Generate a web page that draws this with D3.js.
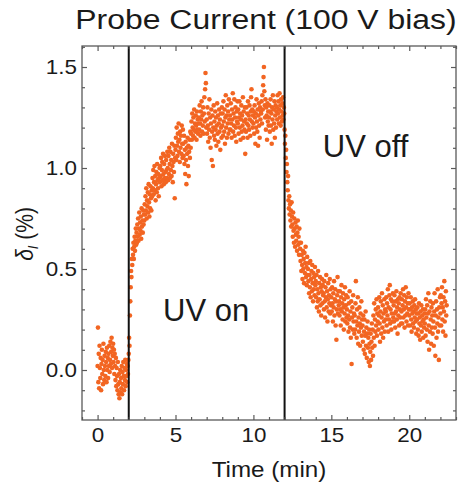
<!DOCTYPE html>
<html>
<head>
<meta charset="utf-8">
<script src="https://cdn.jsdelivr.net/npm/d3@7"></script>
<style>
  html, body { margin: 0; padding: 0; background: #fff; }
  svg { display: block; }
  text { font-family: "Liberation Sans", Arial, sans-serif; fill: #1a1a1a; }
</style>
</head>
<body>
<svg id="chart" width="464" height="485"></svg>
<script>
// time axis sampling of the probe current trace (minutes)
const sampleStart = 0;
const sampleStep = 0.025;

// relative probe current delta_I (%), one row per half minute
const probeCurrent = [
  0.02, 0.21, -0.06, 0.08, -0.09, 0.12, 0.01, -0.04, 0.06, -0.10, 0.03, 0.10, -0.02, 0.05, -0.07, 0.13, 0.00, -0.05, 0.07, 0.02,
  -0.03, 0.09, 0.04, -0.06, 0.11, 0.00, 0.06, -0.04, 0.08, 0.02, 0.12, -0.01, 0.05, 0.14, 0.03, 0.09, 0.16, 0.01, 0.11, 0.07,
  0.13, 0.04, 0.10, -0.02, 0.08, 0.02, -0.05, 0.06, -0.08, 0.01, -0.03, -0.10, 0.04, -0.07, -0.12, -0.02, -0.14, -0.06, 0.00, -0.11,
  -0.04, -0.09, 0.02, -0.12, -0.01, -0.07, 0.04, -0.03, -0.10, 0.01, -0.05, 0.05, -0.08, 0.00, -0.03, 0.03, -0.06, 0.02, -0.02, 0.05,
  0.08, 0.16, 0.12, 0.27, 0.34, 0.41, 0.49, 0.46, 0.55, 0.52, 0.60, 0.57, 0.63, 0.55, 0.61, 0.66, 0.59, 0.64, 0.70, 0.62,
  0.68, 0.63, 0.72, 0.66, 0.75, 0.64, 0.70, 0.78, 0.67, 0.73, 0.69, 0.76, 0.65, 0.80, 0.71, 0.74, 0.68, 0.79, 0.72, 0.77,
  0.74, 0.82, 0.77, 0.86, 0.79, 0.90, 0.75, 0.84, 0.81, 0.88, 0.78, 0.92, 0.83, 0.76, 0.87, 0.80, 0.91, 0.85, 0.79, 0.89,
  0.86, 0.95, 0.90, 0.99, 0.87, 0.93, 1.01, 0.89, 0.96, 0.84, 0.92, 0.98, 0.88, 1.02, 0.94, 0.90, 0.97, 0.86, 0.95, 1.00,
  0.93, 1.01, 0.96, 1.05, 0.91, 0.99, 1.03, 0.94, 1.07, 0.97, 0.92, 1.02, 0.95, 1.06, 0.98, 0.93, 1.04, 0.99, 0.95, 1.08,
  1.00, 0.94, 1.06, 0.97, 1.10, 1.02, 0.95, 1.08, 0.99, 1.04, 0.96, 1.12, 1.01, 0.93, 1.07, 1.03, 0.98, 1.11, 0.85, 1.05,
  1.09, 1.15, 1.04, 1.20, 1.11, 1.06, 1.17, 1.13, 1.22, 1.08, 1.14, 1.03, 1.18, 1.10, 1.16, 1.07, 1.21, 1.12, 1.05, 1.19,
  1.12, 1.06, 1.16, 1.02, 1.09, 0.97, 1.13, 1.04, 0.92, 1.10, 1.07, 1.15, 1.01, 1.11, 0.96, 1.08, 1.14, 1.05, 1.18, 1.10,
  1.17, 1.23, 1.14, 1.27, 1.20, 1.16, 1.25, 1.19, 1.29, 1.15, 1.22, 1.18, 1.26, 1.21, 1.14, 1.28, 1.19, 1.24, 1.17, 1.22,
  1.25, 1.19, 1.31, 1.22, 1.16, 1.28, 1.24, 1.33, 1.18, 1.26, 1.21, 1.30, 1.17, 1.27, 1.35, 1.23, 1.39, 1.47, 1.42, 1.20,
  1.24, 1.17, 1.30, 1.21, 1.13, 1.27, 1.19, 1.34, 1.15, 1.25, 1.10, 1.22, 1.29, 1.04, 1.18, 1.26, 1.01, 1.20, 1.31, 1.16,
  1.23, 1.14, 1.28, 1.19, 1.25, 1.11, 1.21, 1.32, 1.17, 1.26, 1.13, 1.22, 1.29, 1.18, 1.24, 1.09, 1.27, 1.20, 1.15, 1.30,
  1.21, 1.27, 1.16, 1.33, 1.23, 1.18, 1.29, 1.12, 1.25, 1.36, 1.20, 1.26, 1.15, 1.31, 1.22, 1.28, 1.17, 1.34, 1.24, 1.19,
  1.26, 1.19, 1.32, 1.22, 1.15, 1.29, 1.24, 1.37, 1.18, 1.27, 1.21, 1.34, 1.16, 1.25, 1.30, 1.20, 1.13, 1.28, 1.23, 1.33,
  1.22, 1.29, 1.17, 1.25, 1.33, 1.20, 1.27, 1.14, 1.24, 1.31, 1.18, 1.26, 1.21, 1.35, 1.15, 1.28, 1.23, 1.19, 1.30, 1.07,
  1.24, 1.18, 1.30, 1.22, 1.27, 1.15, 1.33, 1.21, 1.26, 1.19, 1.31, 1.24, 1.16, 1.28, 1.35, 1.39, 1.23, 1.29, 1.20, 1.26,
  1.22, 1.28, 1.17, 1.31, 1.25, 1.12, 1.27, 1.20, 1.34, 1.23, 1.18, 1.29, 1.11, 1.26, 1.32, 1.21, 1.15, 1.30, 1.24, 1.28,
  1.27, 1.33, 1.22, 1.36, 1.29, 1.41, 1.45, 1.50, 1.38, 1.31, 1.25, 1.34, 1.19, 1.30, 1.26, 1.14, 1.32, 1.23, 1.28, 1.21,
  1.25, 1.31, 1.18, 1.28, 1.34, 1.21, 1.27, 1.12, 1.30, 1.24, 1.36, 1.19, 1.29, 1.22, 1.33, 1.15, 1.26, 1.31, 1.20, 1.28,
  1.30, 1.24, 1.36, 1.27, 1.33, 1.22, 1.29, 1.37, 1.25, 1.31, 1.21, 1.34, 1.28, 1.23, 1.32, 1.26, 1.35, 1.24, 1.30, 1.27,
  1.19, 1.12, 1.16, 1.05, 1.09, 0.98, 1.02, 0.93, 0.89, 0.96, 0.84, 0.80, 0.86, 0.77, 0.82, 0.74, 0.79, 0.71, 0.83, 0.76,
  0.72, 0.66, 0.78, 0.69, 0.63, 0.75, 0.70, 0.61, 0.73, 0.67, 0.64, 0.71, 0.59, 0.68, 0.74, 0.62, 0.66, 0.57, 0.70, 0.63,
  0.60, 0.54, 0.63, 0.49, 0.57, 0.52, 0.45, 0.59, 0.50, 0.55, 0.43, 0.58, 0.48, 0.53, 0.61, 0.46, 0.51, 0.42, 0.56, 0.47,
  0.50, 0.44, 0.53, 0.38, 0.47, 0.41, 0.54, 0.36, 0.45, 0.49, 0.39, 0.52, 0.43, 0.34, 0.48, 0.40, 0.46, 0.37, 0.51, 0.42,
  0.44, 0.36, 0.47, 0.31, 0.40, 0.34, 0.49, 0.38, 0.29, 0.43, 0.35, 0.46, 0.32, 0.41, 0.27, 0.39, 0.45, 0.33, 0.42, 0.37,
  0.38, 0.30, 0.44, 0.34, 0.26, 0.41, 0.36, 0.47, 0.31, 0.39, 0.24, 0.35, 0.43, 0.29, 0.37, 0.33, 0.45, 0.28, 0.40, 0.32,
  0.36, 0.29, 0.41, 0.33, 0.24, 0.38, 0.31, 0.44, 0.27, 0.35, 0.40, 0.22, 0.34, 0.15, 0.30, 0.37, 0.46, 0.28, 0.39, 0.32,
  0.34, 0.27, 0.39, 0.30, 0.22, 0.36, 0.42, 0.29, 0.33, 0.25, 0.38, 0.31, 0.20, 0.35, 0.28, 0.41, 0.24, 0.32, 0.37, 0.26,
  0.30, 0.23, 0.36, 0.27, 0.19, 0.33, 0.25, 0.39, 0.21, 0.29, 0.16, 0.34, 0.03, 0.26, 0.31, 0.20, 0.37, 0.24, 0.28, 0.18,
  0.27, 0.20, 0.33, 0.44, 0.24, 0.16, 0.30, 0.22, 0.36, 0.13, 0.26, 0.19, 0.31, 0.23, 0.12, 0.28, 0.21, 0.34, 0.17, 0.25,
  0.22, 0.14, 0.27, 0.10, 0.19, 0.25, 0.08, 0.17, 0.29, 0.12, 0.21, 0.06, 0.18, 0.24, 0.11, 0.16, 0.04, 0.20, 0.13, 0.02,
  0.09, 0.18, 0.05, 0.14, 0.23, 0.11, 0.20, 0.07, 0.27, 0.16, 0.33, 0.12, 0.25, 0.19, 0.30, 0.22, 0.35, 0.17, 0.28, 0.24,
  0.31, 0.20, 0.27, 0.36, 0.23, 0.14, 0.29, 0.34, 0.18, 0.26, 0.38, 0.21, 0.32, 0.16, 0.28, 0.24, 0.35, 0.19, 0.30, 0.25,
  0.29, 0.36, 0.22, 0.33, 0.27, 0.40, 0.19, 0.31, 0.25, 0.37, 0.42, 0.23, 0.30, 0.35, 0.20, 0.28, 0.34, 0.24, 0.38, 0.26,
  0.32, 0.24, 0.37, 0.28, 0.21, 0.34, 0.29, 0.39, 0.25, 0.31, 0.18, 0.35, 0.27, 0.33, 0.22, 0.36, 0.30, 0.26, 0.38, 0.23,
  0.29, 0.35, 0.23, 0.32, 0.40, 0.26, 0.30, 0.37, 0.21, 0.34, 0.27, 0.41, 0.31, 0.24, 0.36, 0.28, 0.33, 0.22, 0.38, 0.30,
  0.27, 0.33, 0.22, 0.30, 0.36, 0.25, 0.19, 0.31, 0.28, 0.34, 0.23, 0.29, 0.21, 0.32, 0.26, 0.35, 0.24, 0.30, 0.18, 0.28,
  0.25, 0.31, 0.20, 0.28, 0.17, 0.33, 0.23, 0.26, 0.15, 0.29, 0.22, 0.32, 0.19, 0.27, 0.24, 0.30, 0.16, 0.25, 0.21, 0.28,
  0.23, 0.30, 0.17, 0.35, 0.26, 0.20, 0.32, 0.14, 0.28, 0.38, 0.22, 0.10, 0.29, 0.19, 0.34, 0.25, 0.13, 0.31, 0.21, 0.27,
  0.18, 0.33, 0.24, 0.12, 0.29, 0.38, 0.21, 0.07, 0.27, 0.34, 0.16, 0.30, 0.23, 0.40, 0.19, 0.26, 0.05, 0.31, 0.22, 0.36,
  0.28, 0.37, 0.22, 0.33, 0.41, 0.25, 0.31, 0.19, 0.36, 0.29, 0.44, 0.24, 0.34, 0.17, 0.39, 0.27, 0.32
];

// UV switching times (min)
const uvSwitchTimes = [2, 12];
const annotations = [
  { label: "UV on", t: 4.2, v: 0.245 },
  { label: "UV off", t: 14.45, v: 1.055 }
];

const xMajorTicks = [0, 5, 10, 15, 20];
const yMajorTicks = [0.0, 0.5, 1.0, 1.5];

const titleText = "Probe Current (100 V bias)";
const xLabelText = "Time (min)";

const points = probeCurrent.map((v, i) => ({ t: sampleStart + i * sampleStep, v: v }));

const svg = d3.select("#chart");
const margin = { left: 82, right: 8, top: 46, bottom: 65 };
const width = 464, height = 485;

const x = d3.scaleLinear().domain([-1, 23]).range([margin.left, width - margin.right]);
const y = d3.scaleLinear().domain([-0.2475, 1.604]).range([height - margin.bottom, margin.top]);

const frameColor = "#5a5a5a";
const tickFont = "'Liberation Sans', Arial, sans-serif";

// points
svg.append("g")
  .selectAll("circle")
  .data(points)
  .enter().append("circle")
  .attr("cx", d => x(d.t))
  .attr("cy", d => y(d.v))
  .attr("r", 2.3)
  .attr("fill", "#f26522");

// UV switch lines
svg.append("g")
  .selectAll("line")
  .data(uvSwitchTimes)
  .enter().append("line")
  .attr("x1", d => x(d)).attr("x2", d => x(d))
  .attr("y1", y.range()[0]).attr("y2", y.range()[1])
  .attr("stroke", "#111")
  .attr("stroke-width", 2);

// ticks, pointing inward on all four sides
const xMinor = d3.range(-1, 24, 1).filter(d => !xMajorTicks.includes(d));
const yMinor = d3.range(-2, 17, 1).map(d => d / 10).filter(d => !yMajorTicks.some(m => Math.abs(m - d) < 1e-9));

function styleAxis(g) {
  g.select(".domain").remove();
  g.selectAll(".tick line").attr("stroke", frameColor).attr("stroke-width", 1.2);
}

const plotBottom = y.range()[0], plotTop = y.range()[1];
const plotLeft = x.range()[0], plotRight = x.range()[1];

svg.append("g").attr("transform", `translate(0,${plotBottom})`)
  .call(d3.axisBottom(x).tickValues(xMinor).tickSize(-3).tickFormat(""))
  .call(styleAxis);
svg.append("g").attr("transform", `translate(0,${plotTop})`)
  .call(d3.axisTop(x).tickValues(xMinor).tickSize(-3).tickFormat(""))
  .call(styleAxis);
svg.append("g").attr("transform", `translate(0,${plotTop})`)
  .call(d3.axisTop(x).tickValues(xMajorTicks).tickSize(-5).tickFormat(""))
  .call(styleAxis);
svg.append("g").attr("transform", `translate(${plotLeft},0)`)
  .call(d3.axisLeft(y).tickValues(yMinor).tickSize(-3).tickFormat(""))
  .call(styleAxis);
svg.append("g").attr("transform", `translate(${plotRight},0)`)
  .call(d3.axisRight(y).tickValues(yMinor).tickSize(-3).tickFormat(""))
  .call(styleAxis);
svg.append("g").attr("transform", `translate(${plotRight},0)`)
  .call(d3.axisRight(y).tickValues(yMajorTicks).tickSize(-5).tickFormat(""))
  .call(styleAxis);

const xAxis = svg.append("g").attr("transform", `translate(0,${plotBottom})`)
  .call(d3.axisBottom(x).tickValues(xMajorTicks).tickSize(-5).tickPadding(8).tickFormat(d3.format("d")))
  .call(styleAxis);
xAxis.selectAll(".tick text")
  .attr("font-size", 20)
  .attr("font-family", tickFont)
  .attr("fill", "#1a1a1a")
  .attr("transform", "scale(1.12,1)");

const yAxis = svg.append("g").attr("transform", `translate(${plotLeft},0)`)
  .call(d3.axisLeft(y).tickValues(yMajorTicks).tickSize(-5).tickPadding(4.5).tickFormat(d3.format(".1f")))
  .call(styleAxis);
yAxis.selectAll(".tick text")
  .attr("font-size", 20)
  .attr("font-family", tickFont)
  .attr("fill", "#1a1a1a")
  .attr("transform", "scale(1.12,1)");

// frame
svg.append("rect")
  .attr("x", plotLeft).attr("y", plotTop)
  .attr("width", plotRight - plotLeft).attr("height", plotBottom - plotTop)
  .attr("fill", "none")
  .attr("stroke", frameColor)
  .attr("stroke-width", 1.3);

// title
svg.append("text")
  .attr("transform", `translate(266,29) scale(1.14,1)`)
  .attr("text-anchor", "middle")
  .attr("font-size", 28)
  .text(titleText);

// x label
svg.append("text")
  .attr("transform", `translate(${(plotLeft + plotRight) / 2},477) scale(1.1,1)`)
  .attr("text-anchor", "middle")
  .attr("font-size", 22)
  .text(xLabelText);

// y label
const yLabel = svg.append("text")
  .attr("transform", `translate(33,${(plotTop + plotBottom) / 2 + 1}) rotate(-90) scale(1,1.15)`)
  .attr("text-anchor", "middle")
  .attr("font-size", 21);
yLabel.append("tspan").attr("font-style", "italic").text("δ");
yLabel.append("tspan").attr("font-size", 13).attr("font-style", "italic").attr("dy", 4).text("I");
yLabel.append("tspan").attr("dy", -4).text(" (%)");

// UV annotations
svg.append("g")
  .selectAll("text")
  .data(annotations)
  .enter().append("text")
  .attr("x", d => x(d.t))
  .attr("y", d => y(d.v))
  .attr("font-size", 31)
  .attr("fill", "#111")
  .text(d => d.label);
</script>
</body>
</html>
